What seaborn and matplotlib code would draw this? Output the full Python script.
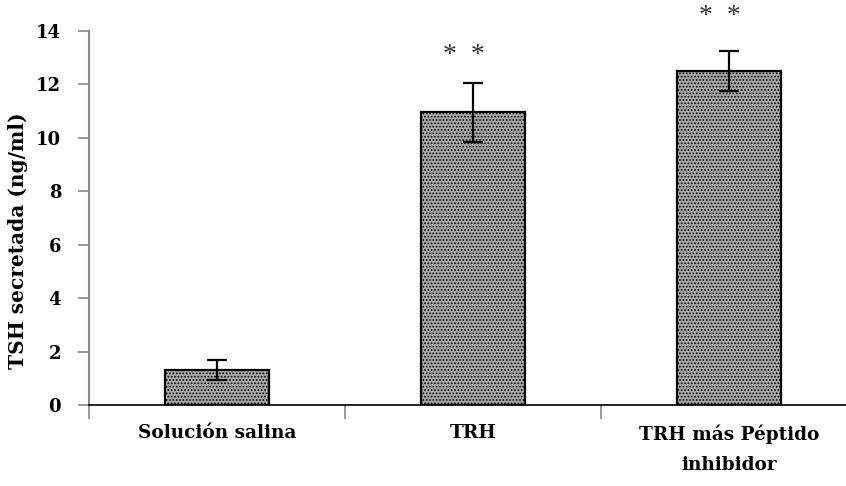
import matplotlib
matplotlib.use("Agg")
import matplotlib.pyplot as plt
import seaborn as sns
import pandas as pd

categories = ["Solución salina", "TRH", "TRH más Péptido\ninhibidor"]
values = [1.3, 10.95, 12.5]
errors = [0.37, 1.12, 0.75]
marks = ["*  *", "*  *"]
mark_pos = [1, 2]
mark_y = [13.1, 14.55]
yticks = [0, 2, 4, 6, 8, 10, 12, 14]

sns.set_theme(style="white")
plt.rcParams['font.family'] = ['DejaVu Serif', 'Liberation Serif']
plt.rcParams['text.color'] = 'black'
plt.rcParams['axes.labelcolor'] = 'black'
plt.rcParams['xtick.color'] = 'black'
plt.rcParams['ytick.color'] = 'black'
plt.rcParams['hatch.color'] = '#202020'
plt.rcParams['hatch.linewidth'] = 0.8

df = pd.DataFrame({"cat": categories, "val": values})

fig = plt.figure(figsize=(8.46, 4.86), dpi=100)
ax = fig.add_axes([89/846, 81/486, 1 - 89/846, 374/486])

sns.barplot(data=df, x="cat", y="val", ax=ax, width=0.406,
            color="#a8a8a8", edgecolor="black", linewidth=1.6, errorbar=None,
            saturation=1)
for p in ax.patches:
    p.set_hatch('.....')

ax.errorbar(range(len(values)), values, yerr=errors, fmt='none',
            ecolor='black', elinewidth=1.6, capsize=7.5, capthick=1.6)

for x, m, my in zip(mark_pos, marks, mark_y):
    ax.text(x - 0.035, my, m, ha='center', va='center', fontsize=20,
            color='#333333', fontweight='light', clip_on=False,
            family=['Liberation Serif'])

ax.set_xlim(-0.5, 2.457)
ax.set_ylim(0, 14)
ax.set_yticks(yticks)
ax.set_yticklabels([str(t) for t in yticks], fontsize=13, fontweight='bold')
ax.set_xticks(range(len(categories)))
ax.set_xticklabels(categories, fontsize=13.3, fontweight='bold', linespacing=1.85)
ax.set_xticks([-0.5, 0.5, 1.5], minor=True)
ax.tick_params(axis='x', which='major', length=0, pad=14)
ax.tick_params(axis='x', which='minor', length=10, width=1.2, color='#888888', direction='out', bottom=True)
ax.tick_params(axis='y', which='major', length=8, width=1.2, color='#888888', direction='out', left=True, pad=12)

ax.set_xlabel("")
ax.set_ylabel("TSH secretada (ng/ml)", fontsize=14.5, fontweight='bold')
ax.yaxis.set_label_coords(-0.08, 0.44)

for s in ['top', 'right']:
    ax.spines[s].set_visible(False)
ax.spines['left'].set_color('#888888')
ax.spines['left'].set_linewidth(1.5)
ax.spines['bottom'].set_color('black')
ax.spines['bottom'].set_linewidth(1.2)

fig.savefig("out.png", dpi=100)
